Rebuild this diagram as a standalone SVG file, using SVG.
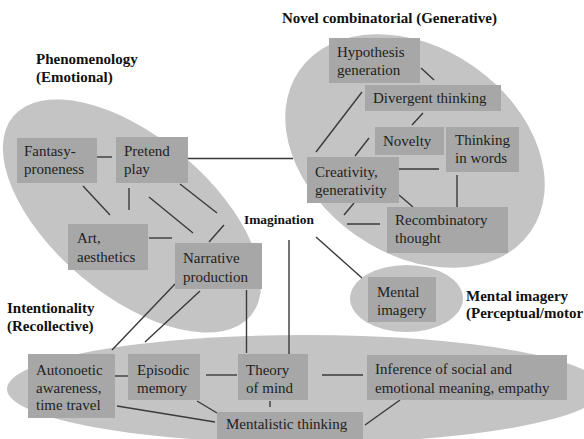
<svg xmlns="http://www.w3.org/2000/svg" width="584" height="439" viewBox="0 0 584 439">
<style>
.reg{fill:#c4c4c4;stroke:none}
.box{fill:#a7a7a7;stroke:none}
.t{font-family:"Liberation Serif","Times New Roman",serif;font-size:15px;fill:#1e1e1e}
.h{font-family:"Liberation Serif","Times New Roman",serif;font-size:15px;font-weight:bold;fill:#111}
.c line{stroke:#3a3a3a;stroke-width:1.4}
</style>
<rect width="584" height="439" fill="#fff"/>
<g id="regions">
<ellipse class="reg" cx="132" cy="216" rx="155" ry="79" transform="rotate(40 132 216)"/>
<ellipse class="reg" cx="415" cy="151" rx="141" ry="103" transform="rotate(35 415 151)"/>
<ellipse class="reg" cx="305" cy="389" rx="298" ry="54"/>
<ellipse class="reg" cx="406.5" cy="298.5" rx="56.5" ry="33.5"/>
</g>
<g id="labels">
<text class="h" x="36" y="64">Phenomenology</text>
<text class="h" x="36" y="82">(Emotional)</text>
<text class="h" x="282" y="23">Novel combinatorial (Generative)</text>
<text class="h" x="7" y="313">Intentionality</text>
<text class="h" x="7" y="331">(Recollective)</text>
<text class="h" x="466" y="301">Mental imagery</text>
<text class="h" x="466" y="318">(Perceptual/motor</text>
</g>
<g class="c" id="connectors">
<line x1="97" y1="157" x2="112" y2="157"/>
<line x1="188" y1="158.5" x2="293" y2="158.5"/>
<line x1="83" y1="186" x2="110" y2="215"/>
<line x1="129" y1="188" x2="129" y2="210"/>
<line x1="149" y1="197" x2="193" y2="233"/>
<line x1="180" y1="184" x2="217" y2="213"/>
<line x1="209" y1="242" x2="224" y2="225"/>
<line x1="149" y1="238" x2="172" y2="238"/>
<line x1="175" y1="284" x2="112" y2="350"/>
<line x1="200" y1="291" x2="145" y2="342"/>
<line x1="246.5" y1="290" x2="246.5" y2="353"/>
<line x1="289" y1="240" x2="289" y2="354"/>
<line x1="316" y1="237" x2="362" y2="278"/>
<line x1="421" y1="68" x2="434" y2="80"/>
<line x1="362" y1="92" x2="316" y2="152"/>
<line x1="423" y1="113" x2="412" y2="125"/>
<line x1="369" y1="138" x2="355" y2="156"/>
<line x1="399" y1="169" x2="439" y2="169"/>
<line x1="457" y1="175" x2="457" y2="207"/>
<line x1="399" y1="195" x2="413" y2="207"/>
<line x1="354" y1="203" x2="344" y2="215"/>
<line x1="347" y1="224" x2="380" y2="224"/>
<line x1="115" y1="376" x2="128" y2="376"/>
<line x1="206" y1="375" x2="237" y2="375"/>
<line x1="322" y1="375" x2="363" y2="375"/>
<line x1="270" y1="401" x2="270" y2="407"/>
<line x1="197" y1="401" x2="217" y2="413"/>
<line x1="117" y1="406" x2="215" y2="422"/>
<line x1="365" y1="425" x2="400" y2="400"/>
</g>
<g id="imagination"><text class="h" x="244" y="224" style="font-size:13.4px">Imagination</text></g>
<g id="fantasy"><rect class="box" x="17" y="138" width="80" height="45"/><text class="t" x="24" y="156">Fantasy-</text><text class="t" x="24" y="174">proneness</text></g>
<g id="pretend"><rect class="box" x="116" y="137" width="72" height="46"/><text class="t" x="124" y="156">Pretend</text><text class="t" x="124" y="174">play</text></g>
<g id="art"><rect class="box" x="68" y="224" width="80" height="46"/><text class="t" x="77" y="243">Art,</text><text class="t" x="77" y="262">aesthetics</text></g>
<g id="narrative"><rect class="box" x="175" y="243" width="87" height="46"/><text class="t" x="183" y="263">Narrative</text><text class="t" x="183" y="282">production</text></g>
<g id="hypothesis"><rect class="box" x="329" y="38" width="91" height="45"/><text class="t" x="337" y="57">Hypothesis</text><text class="t" x="337" y="75">generation</text></g>
<g id="divergent"><rect class="box" x="365" y="85" width="136" height="26"/><text class="t" x="373" y="103">Divergent thinking</text></g>
<g id="novelty"><rect class="box" x="375" y="127" width="69" height="28"/><text class="t" x="383" y="146">Novelty</text></g>
<g id="thinking"><rect class="box" x="446" y="127" width="73" height="45"/><text class="t" x="455" y="145">Thinking</text><text class="t" x="455" y="163">in words</text></g>
<g id="creativity"><rect class="box" x="307" y="157" width="92" height="46"/><text class="t" x="315" y="177">Creativity,</text><text class="t" x="315" y="195">generativity</text></g>
<g id="recombinatory"><rect class="box" x="387" y="207" width="121" height="46"/><text class="t" x="395" y="225">Recombinatory</text><text class="t" x="395" y="243">thought</text></g>
<g id="mental"><rect class="box" x="368" y="277" width="68" height="45"/><text class="t" x="377" y="297">Mental</text><text class="t" x="377" y="315">imagery</text></g>
<g id="autonoetic"><rect class="box" x="28" y="354" width="87" height="64"/><text class="t" x="36" y="375">Autonoetic</text><text class="t" x="36" y="393">awareness,</text><text class="t" x="36" y="410">time travel</text></g>
<g id="episodic"><rect class="box" x="128" y="354" width="72" height="46"/><text class="t" x="137" y="375">Episodic</text><text class="t" x="137" y="393">memory</text></g>
<g id="theory"><rect class="box" x="238" y="354" width="70" height="46"/><text class="t" x="246" y="375">Theory</text><text class="t" x="246" y="393">of mind</text></g>
<g id="inference"><rect class="box" x="367" y="355" width="200" height="45"/><text class="t" x="375" y="374">Inference of social and</text><text class="t" x="375" y="393">emotional meaning, empathy</text></g>
<g id="mentalistic"><rect class="box" x="217" y="412" width="146" height="27"/><text class="t" x="226" y="429">Mentalistic thinking</text></g>
</svg>
